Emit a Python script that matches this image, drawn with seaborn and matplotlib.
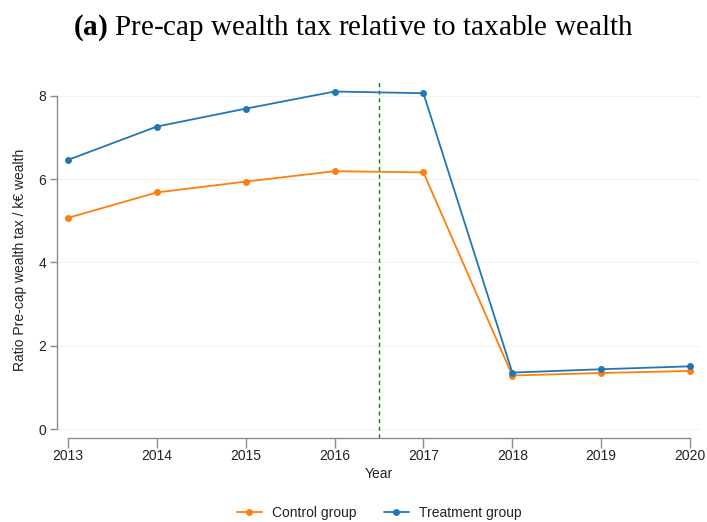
import matplotlib
matplotlib.use("Agg")
import matplotlib.pyplot as plt
import seaborn as sns
import pandas as pd
from matplotlib.lines import Line2D

years = [2013, 2014, 2015, 2016, 2017, 2018, 2019, 2020]
control = [5.07, 5.68, 5.94, 6.19, 6.16, 1.29, 1.35, 1.40]
treatment = [6.46, 7.26, 7.69, 8.10, 8.06, 1.36, 1.44, 1.51]
groups = ["Control group", "Treatment group"]
colors = {"Control group": "#ff7f0e", "Treatment group": "#1f77b4"}
y_ticks = [0, 2, 4, 6, 8]
reform_year = 2016.5

df = pd.DataFrame({
    "Year": years * 2,
    "Ratio": control + treatment,
    "Group": [groups[0]] * len(years) + [groups[1]] * len(years),
})

sns.set_style("white")
plt.rcParams["font.family"] = ["Liberation Sans", "DejaVu Sans"]
plt.rcParams["mathtext.fontset"] = "custom"
plt.rcParams["mathtext.rm"] = "Liberation Serif"
plt.rcParams["mathtext.bf"] = "Liberation Serif:bold"

fig = plt.figure(figsize=(7.07, 5.22), dpi=100)
ax = fig.add_axes([57 / 707, 1 - 438 / 522, (700 - 57) / 707, (438 - 82) / 522])

for ytk in y_ticks:
    ax.axhline(ytk, color="#f2f2f2", lw=0.8, zorder=0)

sns.lineplot(data=df, x="Year", y="Ratio", hue="Group", palette=colors,
             marker="o", markersize=5, markeredgewidth=0, linewidth=1.3,
             ax=ax, legend=False, zorder=3)

ax.axvline(reform_year, color="#0b830b", lw=1.0, ls=(0, (3, 2.5)), zorder=2)

ax.set_xlim(2013 - 11 / 88.86, 2020 + 10 / 88.86)
ax.set_ylim(-8.7 / 41.7, 8 + 13.7 / 41.7)
ax.set_xticks(years)
ax.set_yticks(y_ticks)
ax.set_xticklabels([str(y) for y in years], fontsize=10)
ax.set_yticklabels([str(v) for v in y_ticks], fontsize=10)

for side in ["top", "right"]:
    ax.spines[side].set_visible(False)
for side in ["left", "bottom"]:
    ax.spines[side].set_color("#8c8c8c")
    ax.spines[side].set_linewidth(1.0)
ax.spines["left"].set_bounds(0, 8)
ax.spines["bottom"].set_bounds(2013, 2020)
ax.tick_params(axis="both", bottom=True, left=True, direction="out",
               colors="#8c8c8c", labelcolor="#222222")
ax.tick_params(axis="x", length=7, width=1.0, pad=1)
ax.tick_params(axis="y", length=5, width=1.0, pad=3)

ax.set_xlabel("Year", fontsize=10, color="#222222", labelpad=3)
ax.set_ylabel("Ratio Pre-cap wealth tax / k\u20ac wealth", fontsize=10,
              color="#222222", labelpad=8)

handles = [Line2D([0], [0], color=colors[g], marker="o", markersize=5,
                  markeredgewidth=0, lw=1.3) for g in groups]
fig.legend(handles, groups, loc="center", bbox_to_anchor=(379 / 707, 1 - 513 / 522),
           ncol=2, frameon=False, fontsize=10, handlelength=1.8,
           columnspacing=2.0, handletextpad=0.7,
           labelcolor="#222222")

fig.text(0.5, 1 - 28 / 522,
         r"$\mathbf{(a)}$ Pre-cap wealth tax relative to taxable wealth",
         ha="center", va="center", fontsize=21, family="Liberation Serif",
         color="black")

fig.savefig("out.png", dpi=100)
